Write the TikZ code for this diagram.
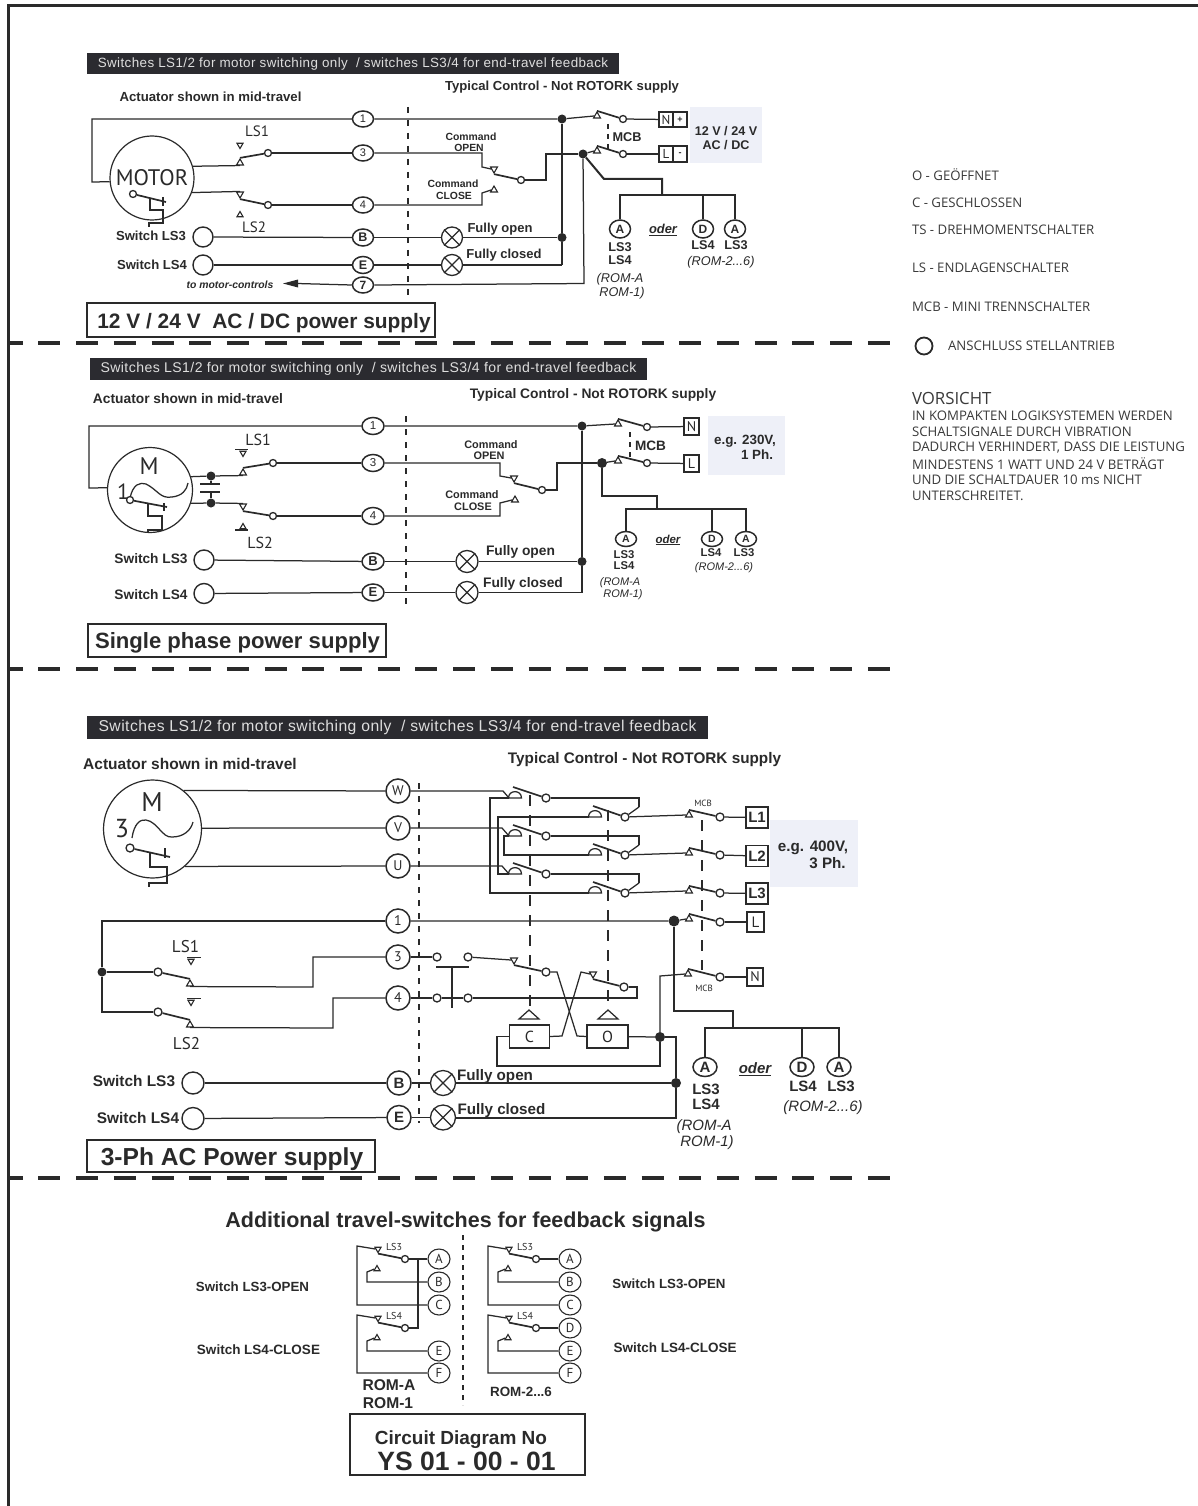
\documentclass[tikz,border=0pt]{standalone}
\usepackage{fontspec}
\setmainfont{Liberation Sans}
\newfontfamily\thinf{PT Sans}
\newfontfamily\legf{Open Sans}
\usetikzlibrary{shapes.geometric}
\definecolor{ink}{HTML}{2A2A2A}
\definecolor{hdrbg}{HTML}{2B2B30}
\definecolor{hdrfg}{HTML}{DEDEDE}
\definecolor{panel}{HTML}{EEF0F8}
\definecolor{legc}{HTML}{3A3A3A}
\newcommand{\fsz}[1]{\fontsize{#1}{#1}\selectfont}
\newcommand{\bt}[5]{\node[lab,font=\bfseries\fsz{#4}] (#1) at (#2,#3) {#5};}
\newcommand{\itx}[5]{\node[lab,font=\itshape\fsz{#4}] (#1) at (#2,#3) {#5};}
\newcommand{\tht}[5]{\node[lab,font=\thinf\fsz{#4}] (#1) at (#2,#3) {#5};}
\newcommand{\lamp}[4]{\node[lampn,minimum size=#4pt] (#1) at (#2,#3) {};\draw[wire] (#1.45) -- (#1.225) (#1.135) -- (#1.315);}
\newcommand{\dome}[2]{\draw[wire,fill=white] (#1-6.5,#2) .. controls (#1-6.5,#2-8.5) and (#1+6.5,#2-8.5) .. (#1+6.5,#2) -- cycle;}
\tikzset{
 wire/.style={line width=1.25pt,draw=ink},
 thk/.style={line width=2pt,draw=ink},
 blade/.style={line width=1.7pt,draw=ink},
 link/.style={line width=1.5pt,draw=ink,dash pattern=on 5pt off 5pt},
 ctl/.style={line width=1.6pt,draw=ink,dash pattern=on 6pt off 7pt},
 sect/.style={line width=4pt,draw=ink,dash pattern=on 22pt off 15.7pt,dash phase=7.3pt},
 lab/.style={inner sep=0pt,outer sep=0pt,text=ink,align=center},
 hdr/.style={fill=hdrbg,inner sep=0pt,text=hdrfg,align=center},
 term/.style={circle,draw=ink,line width=1.5pt,fill=white,inner sep=0pt,minimum size=20pt,text=ink},
 tel/.style={ellipse,draw=ink,line width=1.5pt,fill=white,inner sep=0pt,minimum width=21pt,minimum height=16pt,text=ink},
 ext/.style={circle,draw=ink,line width=1.4pt,fill=white,inner sep=0pt,minimum size=20pt},
 cont/.style={circle,draw=ink,line width=1.3pt,fill=white,inner sep=0pt,minimum size=7pt},
 dotn/.style={circle,fill=ink,inner sep=0pt,minimum size=9pt},
 lampn/.style={circle,draw=ink,line width=1.3pt,fill=white,inner sep=0pt},
 tri/.style={regular polygon,regular polygon sides=3,draw=ink,line width=1.1pt,fill=white,inner sep=0pt,minimum size=8pt},
 trd/.style={tri,shape border rotate=180},
 tbox/.style={rectangle,draw=ink,line width=1.2pt,fill=white,inner sep=0pt,text=ink},
 titlebox/.style={rectangle,draw=ink,line width=2.2pt,inner sep=0pt,text=ink,font=\bfseries},
 mot/.style={circle,draw=ink,line width=1.2pt,fill=white,inner sep=0pt},
 pan/.style={fill=panel,inner sep=0pt},
}
\begin{document}
\begin{tikzpicture}[x=1pt,y=-1pt]
\useasboundingbox (0,0) rectangle (1198,1506);
\fill[white] (0,0) rectangle (1198,1506);
% frame
\coordinate (f1) at (8.5,1506);\coordinate (f2) at (8.5,5.5);\coordinate (f3) at (1198,5.5);
\draw[line width=2.2pt,draw=ink] (f1) -- (f2) -- (f3);
% section rules
\coordinate (r1a) at (8,343);\coordinate (r1b) at (890,343);\draw[sect] (r1a) -- (r1b);
\coordinate (r2a) at (8,669);\coordinate (r2b) at (890,669);\draw[sect] (r2a) -- (r2b);
\coordinate (r3a) at (8,1178);\coordinate (r3b) at (890,1178);\draw[sect] (r3a) -- (r3b);

%%%%%%%%%%%%%%% SECTION 1
\node[hdr,minimum width=532pt,minimum height=21pt,font=\fsz{13.4}] (h1) at (353,64) {\addfontfeature{LetterSpace=3}Switches LS1/2 for motor switching only~ / switches LS3/4 for end-travel feedback};
\bt{a1}{210.5}{97}{13.2}{Actuator shown in mid-travel}
\bt{y1}{562}{87}{13.1}{Typical Control - Not ROTORK supply}
\coordinate (d1a) at (408,107);\coordinate (d1b) at (408,297);\draw[ctl] (d1a) -- (d1b);
\node[pan,minimum width=72pt,minimum height=56pt] (p1) at (726,135) {};
\bt{p1a}{726}{131}{12.6}{12 V / 24 V}
\bt{p1b}{726}{145}{12.6}{AC / DC}
\node[mot,minimum size=84pt] (m1) at (152,178) {};
\tht{m1t}{152}{178}{22.5}{MOTOR}
\node[tel,font=\fsz{11}] (t11) at (363,119) {1};
\node[tel,font=\fsz{11}] (t13) at (363,153) {3};
\node[tel,font=\fsz{11}] (t14) at (363,205) {4};
\node[tel,minimum height=17pt,font=\bfseries\fsz{12.5}] (t1b) at (363,237.5) {B};
\node[tel,minimum height=17pt,font=\bfseries\fsz{12.5}] (t1e) at (363,265) {E};
\node[tel,minimum height=16pt,font=\bfseries\fsz{12}] (t17) at (363,285) {7};
\coordinate (w1a) at (92,119);\coordinate (w1b) at (92,182);
\draw[wire] (t11) -- (w1a) -- (w1b) -- (m1.185);
% LS1 LS2
\node[tri] (s1u) at (240,163) {};
\node[trd] (s1d) at (240,194) {};
\node[cont] (c1u) at (268,153) {};
\node[cont] (c1d) at (268,205) {};
\draw[wire] (m1.16) -- (s1u.south);
\draw[wire] (m1.-20) -- (s1d.north);
\draw[blade] (s1u.corner 1) -- (c1u);
\draw[blade] (s1d.corner 1) -- (c1d);
\draw[wire] (c1u) -- (t13);
\draw[wire] (c1d) -- (t14);
\node[trd,minimum size=7pt] (q1u) at (240,145) {};
\node[tri,minimum size=7pt] (q1d) at (240,215) {};
\tht{l1a}{257}{131}{15}{LS1}
\tht{l1b}{254}{227}{15}{LS2}
% torque symbol
\node[cont,minimum size=7pt] (g1) at (133,194) {};
\coordinate (g1e) at (166,202);\draw[blade] (g1) -- (g1e);
\coordinate (g1t) at (163,197);\coordinate (g1u) at (163,206);\draw[blade] (g1t) -- (g1u);
\coordinate (g1a) at (150,198);\coordinate (g1f) at (149,227);
\draw[line width=2pt,draw=ink] (g1a) -- (150,210) -- (163,210) -- (163,223) -- (149,223) -- (g1f);
% ext
\bt{e1a}{151}{236}{13.1}{Switch LS3}
\bt{e1b}{152}{265}{13.1}{Switch LS4}
\node[ext] (x1a) at (203,237) {};
\node[ext] (x1b) at (203,265) {};
\draw[wire] (x1a) -- (t1b);
\draw[wire] (x1b) -- (t1e);
\node[lab,font=\bfseries\itshape\fsz{10.4}] (mc) at (230,285) {to motor-controls};
\coordinate (ar) at (283,283.5);
\draw[wire] (t17.180) -- (297,283.5);
\fill[ink] (ar) -- (298,279.5) -- (298,287.5) -- cycle;
\node[titlebox,minimum width=348pt,minimum height=34pt] (b1) at (261,320) {};
\bt{b1t}{264}{323}{20.9}{12 V / 24 V~ AC / DC power supply}
% right
\node[dotn] (d1n) at (562,119) {};
\node[dotn] (d1l) at (583,154) {};
\node[dotn] (d1o) at (562,237.5) {};
\node[tri] (m1n) at (597,116) {};
\node[tri] (m1l) at (597,151) {};
\node[cont] (c1n) at (623,119) {};
\node[cont] (c1l) at (623,154) {};
\node[tbox,minimum width=14pt,minimum height=15pt,font=\thinf\fsz{13}] (b1n) at (666,119.5) {N};
\node[tbox,minimum width=14pt,minimum height=15pt,font=\bfseries\fsz{9}] (b1p) at (680,119.5) {+};
\node[tbox,minimum width=14pt,minimum height=16pt,font=\thinf\fsz{13}] (b1l) at (666,154) {L};
\node[tbox,minimum width=14pt,minimum height=16pt,font=\bfseries\fsz{9}] (b1m) at (680,154) {-};
\draw[wire] (t11) -- (d1n) -- (m1n.west);
\draw[blade] (m1n.corner 1) -- (c1n);
\draw[blade] (m1l.corner 1) -- (c1l);
\draw[wire] (c1n) -- (b1n);
\draw[wire] (c1l) -- (b1l);
\draw[wire] (d1l) -- (m1l.west);
\coordinate (ml1) at (608,124);\coordinate (ml2) at (608,152);\draw[link] (ml1) -- (ml2);
\bt{mcb1}{627}{137}{12.7}{MCB}
% command switch
\node[trd] (k1a) at (494,169) {};
\node[tri] (k1b) at (494,190) {};
\node[cont] (k1c) at (521,180) {};
\draw[wire] (t13) -- (482,153) -- (482,167) -- (k1a.west);
\draw[wire] (t14) -- (482,205) -- (482,193) -- (k1b.west);
\draw[blade] (k1a.corner 1) -- (k1c);
\draw[wire] (k1c) -- (546,180) -- (546,154) -- (d1l);
\bt{k1t}{471}{137}{10.4}{Command}
\bt{k1u}{469}{148}{10.4}{OPEN}
\bt{k1v}{453}{184}{10.4}{Command}
\bt{k1w}{454}{196}{10.4}{CLOSE}
% lamps
\lamp{la1}{452}{237.5}{21}
\lamp{lb1}{452}{265}{21}
\draw[wire] (t1b) -- (la1);
\draw[wire] (t1e) -- (lb1);
\draw[wire] (la1) -- (d1o);
\coordinate (bb1) at (562,265);
\draw[wire] (lb1) -- (bb1);
\draw[thk] (d1n) -- (d1o) -- (bb1);
\bt{fo1}{500}{229.4}{13}{Fully open}
\bt{fc1}{504}{255.4}{13}{Fully closed}
\draw[wire] (t17.0) -- (584,283.5) -- (d1l);
% branch
\node[tel,minimum height=18pt,font=\bfseries\fsz{12}] (z1a) at (620,229) {A};
\node[tel,minimum height=18pt,font=\bfseries\fsz{12}] (z1d) at (703,229) {D};
\node[tel,minimum height=18pt,font=\bfseries\fsz{12}] (z1e) at (735,229) {A};
\draw[thk] (d1l) -- (604,179) -- (662,179) -- (662,195);
\draw[thk] (z1a) -- (620,195) -- (735,195) -- (z1e);
\draw[thk] (703,195) -- (z1d);
\bt{z1b}{620}{247}{12.7}{LS3}
\bt{z1c}{620}{260}{12.7}{LS4}
\itx{z1f}{620}{279}{12.7}{(ROM-A}
\itx{z1g}{622}{293}{12.7}{ROM-1)}
\node[lab,font=\bfseries\itshape\fsz{12.9}] (o1) at (663,230) {\underline{oder}};
\bt{z1h}{703}{245}{12.7}{LS4}
\bt{z1i}{736}{245}{12.7}{LS3}
\itx{z1j}{721}{262}{12.7}{(ROM-2...6)}

%%%%%%%%%%%%%%% SECTION 2
\node[hdr,minimum width=557pt,minimum height=22pt,font=\fsz{14.07}] (h2) at (368.5,369) {\addfontfeature{LetterSpace=3}Switches LS1/2 for motor switching only~ / switches LS3/4 for end-travel feedback};
\bt{a2}{188}{399}{13.8}{Actuator shown in mid-travel}
\bt{y2}{593}{395.4}{13.8}{Typical Control - Not ROTORK supply}
\coordinate (d2a) at (406,416);\coordinate (d2b) at (406,607);\draw[ctl] (d2a) -- (d2b);
\node[pan,minimum width=77pt,minimum height=59pt] (p2) at (746.5,445.5) {};
\bt{p2a}{745}{441}{13.4}{e.g. 230V,}
\bt{p2b}{757}{455}{13.4}{1 Ph.}
\node[mot,minimum size=85pt] (m2) at (150,490) {};
\tht{m2m}{149}{466}{24}{M}
\tht{m2o}{123}{492}{22}{1}
\draw[wire] (130,498) .. controls (133,484) and (140,482) .. (146,484) .. controls (158,490) and (160,499) .. (172,497) .. controls (182,496) and (187,490) .. (188,483);
\node[tel,minimum width=22pt,minimum height=17pt,font=\fsz{11.5}] (t21) at (373,426) {1};
\node[tel,minimum width=22pt,minimum height=17pt,font=\fsz{11.5}] (t23) at (373,463) {3};
\node[tel,minimum width=22pt,minimum height=17pt,font=\fsz{11.5}] (t24) at (373,516) {4};
\node[tel,minimum width=22pt,minimum height=17pt,font=\bfseries\fsz{13}] (t2b) at (373,561.5) {B};
\node[tel,minimum width=22pt,minimum height=17pt,font=\bfseries\fsz{13}] (t2e) at (373,592.5) {E};
\coordinate (w2a) at (89,426);\coordinate (w2b) at (89,488);
\draw[wire] (t21) -- (w2a) -- (w2b) -- (m2.177);
\node[tri] (s2u) at (243,473) {};
\node[trd] (s2d) at (243,506) {};
\node[cont] (c2u) at (273,463) {};
\node[cont] (c2d) at (273,516) {};
\node[dotn] (cp1) at (211,476) {};
\node[dotn] (cp2) at (211,503) {};
\draw[wire] (m2.18) -- (cp1) -- (s2u.south);
\draw[wire] (m2.-18) -- (cp2) -- (s2d.north);
\draw[blade] (s2u.corner 1) -- (c2u);
\draw[blade] (s2d.corner 1) -- (c2d);
\draw[wire] (c2u) -- (t23);
\draw[wire] (c2d) -- (t24);
\coordinate (cpa1) at (200,484);\coordinate (cpa2) at (220,484);\draw[blade] (cpa1) -- (cpa2);
\coordinate (cpb1) at (200,492);\coordinate (cpb2) at (220,492);\draw[blade] (cpb1) -- (cpb2);
\draw[wire] (cp1) -- (211,484) (cp2) -- (211,492);
\node[trd,minimum size=7pt] (q2u) at (243,453) {};
\node[tri,minimum size=7pt] (q2d) at (243,527) {};
\coordinate (qb1) at (235,449.5);\coordinate (qb2) at (248,449.5);\draw[wire] (qb1) -- (qb2);
\coordinate (qb3) at (235,530);\coordinate (qb4) at (248,530);\draw[wire] (qb3) -- (qb4);
\tht{l2a}{258}{440}{16}{LS1}
\tht{l2b}{260}{543}{16}{LS2}
\node[cont] (g2) at (130,500) {};
\coordinate (g2e) at (167,507);\draw[blade] (g2) -- (g2e);
\coordinate (g2t) at (164,503);\coordinate (g2u) at (164,511);\draw[wire] (g2t) -- (g2u);
\coordinate (g2a) at (148,503);\coordinate (g2f) at (148,533);
\draw[line width=2pt,draw=ink] (g2a) -- (148,516) -- (162,516) -- (162,530) -- (148,530) -- (g2f);
\bt{e2a}{151}{559}{13.7}{Switch LS3}
\bt{e2b}{151}{595}{13.7}{Switch LS4}
\node[ext] (x2a) at (204,560) {};
\node[ext] (x2b) at (204,593.5) {};
\draw[wire] (x2a) -- (t2b);
\draw[wire] (x2b) -- (t2e);
\node[titlebox,minimum width=298pt,minimum height=33pt] (b2) at (237,640.5) {};
\bt{b2t}{237.5}{643.3}{22.1}{Single phase power supply}
% right
\node[dotn] (d2n) at (582,426) {};
\node[dotn,minimum size=10pt] (d2l) at (602,463) {};
\node[dotn] (d2o) at (582,561.5) {};
\node[tri] (m2n) at (618,424) {};
\node[tri] (m2l) at (618,461) {};
\node[cont] (c2n) at (647,427) {};
\node[cont] (c2l) at (647,463) {};
\node[tbox,minimum width=15pt,minimum height=17pt,font=\thinf\fsz{14}] (b2n) at (691.5,426.5) {N};
\node[tbox,minimum width=15pt,minimum height=17pt,font=\thinf\fsz{14}] (b2l) at (691.5,463.5) {L};
\draw[wire] (t21) -- (d2n) -- (m2n.west);
\draw[blade] (m2n.corner 1) -- (c2n);
\draw[blade] (m2l.corner 1) -- (c2l);
\draw[wire] (c2n) -- (b2n);
\draw[wire] (c2l) -- (b2l);
\draw[wire] (d2l) -- (m2l.west);
\coordinate (ml3) at (630,432);\coordinate (ml4) at (630,457);\draw[link] (ml3) -- (ml4);
\bt{mcb2}{650.5}{446}{13.6}{MCB}
\node[trd] (k2a) at (514,478) {};
\node[tri] (k2b) at (515,500) {};
\node[cont] (k2c) at (542,490) {};
\draw[wire] (t23) -- (500,463) -- (500,476) -- (k2a.west);
\draw[wire] (t24) -- (500,516) -- (500,503) -- (k2b.west);
\draw[blade] (k2a.corner 1) -- (k2c);
\draw[wire] (k2c) -- (557,490) -- (557,463) -- (d2l);
\bt{k2t}{491}{445}{10.9}{Command}
\bt{k2u}{489}{456}{10.9}{OPEN}
\bt{k2v}{472}{495}{10.9}{Command}
\bt{k2w}{473}{507}{10.9}{CLOSE}
\lamp{la2}{467}{561.5}{22}
\lamp{lb2}{467}{592.5}{22}
\draw[wire] (t2b) -- (la2);
\draw[wire] (t2e) -- (lb2);
\draw[wire] (la2) -- (d2o);
\coordinate (bb2) at (582,592.5);
\draw[wire] (lb2) -- (bb2);
\draw[thk] (d2n) -- (d2o) -- (bb2);
\bt{fo2}{520.5}{552.4}{13.8}{Fully open}
\bt{fc2}{523}{584.4}{13.8}{Fully closed}
\node[tel,minimum height=15pt,font=\bfseries\fsz{10.5}] (z2a) at (626,539) {A};
\node[tel,minimum height=15pt,font=\bfseries\fsz{10.5}] (z2d) at (712,539) {D};
\node[tel,minimum height=15pt,font=\bfseries\fsz{10.5}] (z2e) at (746,539) {A};
\draw[thk] (d2l) -- (602,496) -- (657,496) -- (657,509);
\draw[thk] (z2a) -- (626,509) -- (746,509) -- (z2e);
\draw[thk] (712,509) -- (z2d);
\bt{z2b}{624}{555}{11.3}{LS3}
\bt{z2c}{624}{566}{11.3}{LS4}
\itx{z2f}{620}{583}{11}{(ROM-A}
\itx{z2g}{623}{595}{11}{ROM-1)}
\node[lab,font=\bfseries\itshape\fsz{11.5}] (o2) at (668,540) {\underline{oder}};
\bt{z2h}{711}{553}{11.3}{LS4}
\bt{z2i}{744}{553}{11.3}{LS3}
\itx{z2j}{724}{568}{11}{(ROM-2...6)}

%%%%%%%%%%%%%%% SECTION 3
\node[hdr,minimum width=621pt,minimum height=23pt,font=\fsz{15.7}] (h3) at (397.5,727.5) {\addfontfeature{LetterSpace=3}Switches LS1/2 for motor switching only~ / switches LS3/4 for end-travel feedback};
\bt{a3}{190}{764}{15.5}{Actuator shown in mid-travel}
\bt{y3}{644.5}{759.6}{15.3}{Typical Control - Not ROTORK supply}
\coordinate (d3a) at (419,783);\coordinate (d3b) at (419,1123);\draw[ctl] (d3a) -- (d3b);
\node[pan,minimum width=88pt,minimum height=67pt] (p3) at (814,853.5) {};
\bt{p3a}{813}{848}{15.2}{e.g. 400V,}
\bt{p3b}{827.5}{863}{15.2}{3 Ph.}
\coordinate (sy1) at (150,852);
\node[mot,minimum size=98pt] (m3) at (152.5,829) {};
\tht{m3m}{152}{802}{27}{M}
\tht{m3o}{122}{829}{26}{3}
\draw[wire] (132,838) .. controls (134,824) and (140,819) .. (146,820) .. controls (158,822) and (162,838) .. (172,837) .. controls (184,837) and (191,830) .. (193,822);
\node[cont,minimum size=8pt] (g3) at (130,848) {};
\coordinate (g3e) at (170,857);\draw[blade] (g3) -- (g3e);
\coordinate (g3t) at (165,848);\coordinate (g3u) at (165,858);\draw[wire] (g3t) -- (g3u);
\coordinate (g3f) at (149,887);
\draw[line width=2pt,draw=ink] (sy1) -- (150,867) -- (167,867) -- (167,883) -- (149,883) -- (g3f);
\foreach \n/\v/\y in {w/W/791,v/V/828,u/U/866,1/1/921,3/3/957,4/4/998}{
  \node[term,minimum size=24pt,font=\thinf\fsz{14}] (t3\n) at (398,\y) {\v};
}
\node[term,minimum size=24pt,font=\bfseries\fsz{15}] (t3b) at (399,1083) {B};
\node[term,minimum size=24pt,font=\bfseries\fsz{15}] (t3e) at (399,1117.5) {E};
\draw[wire] (m3.51) -- (t3w);
\draw[wire] (m3.1) -- (t3v);
\draw[wire] (m3.-49) -- (t3u);
% LS1/LS2 sec 3
\node[dotn,minimum size=9pt] (d3s) at (102,972) {};
\node[cont,minimum size=8pt] (c3a) at (158,972) {};
\node[cont,minimum size=8pt] (c3b) at (158,1012) {};
\node[tri] (s3a) at (190,984) {};
\node[tri] (s3b) at (190,1025) {};
\draw[wire] (t31) -- (102,921) -- (d3s) -- (102,1012) -- (c3b);
\draw[wire] (d3s) -- (c3a);
\draw[blade] (c3a) -- (s3a.corner 1);
\draw[blade] (c3b) -- (s3b.corner 1);
\draw[wire] (s3a.south) -- (313,987) -- (313,957) -- (t33);
\draw[wire] (s3b.south) -- (333,1028) -- (333,998) -- (t34);
\node[trd,minimum size=7pt] (q3a) at (191,961) {};
\node[trd,minimum size=7pt] (q3b) at (191,1002) {};
\coordinate (qc1) at (187,957.5);\coordinate (qc2) at (201,957.5);\draw[wire] (qc1) -- (qc2);
\coordinate (qc3) at (187,998.5);\coordinate (qc4) at (201,998.5);\draw[wire] (qc3) -- (qc4);
\tht{l3a}{185.5}{947}{17}{LS1}
\tht{l3b}{186.5}{1044}{17}{LS2}
% contactor top
\foreach \n/\y in {a/798,b/836,c/874}{
  \dome{515}{\y}
  \node[cont,minimum size=8pt] (u\n) at (546,\y) {};
  \coordinate (ub\n) at (513,\y-11);
  \draw[blade] (ub\n) -- (u\n);
  \coordinate (ug\n) at (639,\y);
  \coordinate (uh\n) at (639,\y+9);
  \draw[wire] (u\n) -- (ug\n) -- (uh\n);
}
\foreach \n/\y in {a/817,b/855,c/893}{
  \dome{595}{\y}
  \node[cont,minimum size=8pt] (v\n) at (625,\y) {};
  \coordinate (vb\n) at (593,\y-11);
  \draw[blade] (vb\n) -- (v\n);
  \node[tri] (w\n) at (689,\y-2) {};
  \node[cont,minimum size=8pt] (y\n) at (720,\y) {};
  \draw[blade] (w\n.corner 1) -- (y\n);
  \draw[wire] (v\n) -- (w\n.west);
}
\draw[wire] (uha) -- (va);\draw[wire] (uhb) -- (vb);\draw[wire] (uhc) -- (vc);
\node[tbox,minimum width=22pt,minimum height=21pt,font=\bfseries\fsz{15}] (bl1) at (757,817.5) {L1};
\node[tbox,minimum width=22pt,minimum height=21pt,font=\bfseries\fsz{15}] (bl2) at (757,856) {L2};
\node[tbox,minimum width=22pt,minimum height=21pt,font=\bfseries\fsz{15}] (bl3) at (757,893.5) {L3};
\node[tbox,minimum width=17pt,minimum height=20pt,font=\thinf\fsz{15}] (bll) at (755.5,922) {L};
\draw[wire] (ya) -- (bl1);\draw[wire] (yb) -- (bl2);\draw[wire] (yc) -- (bl3);
\node[lab,font=\thinf\fsz{9}] (mcb3) at (703,803) {MCB};
% brackets and feeds
\draw[wire] (t3w) -- (503,791) -- (509,798);
\draw[wire] (t3v) -- (502,828) -- (509,836);
\draw[wire] (t3u) -- (502,866) -- (509,874);
\draw[wire] (509,798) -- (490,798) -- (490,893) -- (588.5,893);
\draw[wire] (509,874) -- (498,874) -- (498,817) -- (588.5,817);
\draw[wire] (509,836) -- (504,836) -- (504,855) -- (588.5,855);
% mech links
\coordinate (ln1) at (530,795);\coordinate (ln2) at (530,1010);
\coordinate (ln3) at (608,810);\coordinate (ln4) at (608,1010);
\coordinate (ln5) at (702,820);\coordinate (ln6) at (702,970);
\draw[line width=1.2pt,draw=ink,dash pattern=on 11pt off 9pt] (ln1) -- (ln2);
\draw[line width=1.2pt,draw=ink,dash pattern=on 11pt off 9pt] (ln3) -- (ln4);
\draw[line width=1.2pt,draw=ink,dash pattern=on 11pt off 9pt] (ln5) -- (ln6);
% L row
\node[dotn,minimum size=11pt] (d3n) at (674,921) {};
\node[tri] (wl) at (689,919) {};
\node[cont,minimum size=8pt] (yl) at (720,922) {};
\draw[wire] (t31) -- (d3n) -- (wl.west);
\draw[blade] (wl.corner 1) -- (yl);
\draw[wire] (yl) -- (bll);
% N row
\node[tri] (wn) at (688,974) {};
\node[cont,minimum size=8pt] (yn) at (720,977) {};
\node[tbox,minimum width=16pt,minimum height=18pt,font=\thinf\fsz{14}] (bln) at (755,977) {N};
\draw[blade] (wn.corner 1) -- (yn);
\draw[wire] (yn) -- (bln);
\node[lab,font=\thinf\fsz{9}] (mcb4) at (704,988) {MCB};
% push button
\node[cont,minimum size=8pt] (pb1) at (437,957) {};
\node[cont,minimum size=8pt] (pb2) at (468,957) {};
\node[cont,minimum size=8pt] (pb3) at (437,998) {};
\node[cont,minimum size=8pt] (pb4) at (468,998) {};
\draw[wire] (t33) -- (pb1);
\draw[wire] (t34) -- (pb3);
\coordinate (pt1) at (436,967);\coordinate (pt2) at (469,967);\draw[blade] (pt1) -- (pt2);
\coordinate (pt3) at (452,967);\coordinate (pt4) at (452,1008);\draw[blade] (pt3) -- (pt4);
\draw[wire] (pb3) -- (pb4);
% contactor coil contacts
\node[trd] (k3a) at (514,960) {};
\node[cont,minimum size=8pt] (k3c) at (546,972) {};
\node[trd] (k3b) at (593,974) {};
\node[cont,minimum size=8pt] (k3d) at (624,987) {};
\draw[wire] (pb2) -- (k3a.west);
\draw[blade] (k3a.corner 1) -- (k3c);
\draw[blade] (k3b.corner 1) -- (k3d);
\node[tbox,minimum width=40pt,minimum height=23pt,font=\thinf\fsz{16}] (cc) at (529.5,1036.5) {C};
\node[tbox,minimum width=41pt,minimum height=23pt,font=\thinf\fsz{16}] (co) at (607.5,1036.5) {O};
\draw[wire] (k3c) -- (557,972) -- (577,1036) -- (co.west);
\draw[wire] (k3b.west) -- (581,972) -- (562,1036) -- (cc.east);
\draw[wire] (pb4) -- (637,998) -- (637,987) -- (k3d);
\draw[wire,fill=white] (519,1019) -- (529,1010) -- (539,1019) -- cycle;
\draw[wire,fill=white] (598,1019) -- (608,1010) -- (618,1019) -- cycle;
\node[dotn,minimum size=10pt] (d3c) at (660,1037) {};
\node[dotn,minimum size=10pt] (d3o) at (676,1083) {};
\draw[wire] (co) -- (d3c);
\draw[wire] (cc.west) -- (497,1036.5) -- (497,1066) -- (660,1066) -- (d3c);
\draw[wire] (d3c) -- (660,976) -- (wn.west);
\draw[wire] (d3c) -- (676,1037) -- (d3o);
% lamps
\lamp{la3}{443}{1083}{25}
\lamp{lb3}{443}{1117.5}{25}
\draw[wire] (t3b) -- (la3);
\draw[wire] (t3e) -- (lb3);
\draw[thk] (la3) -- (d3o);
\draw[thk] (lb3) -- (676,1117.5) -- (d3o);
\bt{fo3}{495}{1076.6}{15.2}{Fully open}
\bt{fc3}{501.5}{1110.6}{15.2}{Fully closed}
\bt{e3a}{134}{1081}{15.4}{Switch LS3}
\bt{e3b}{138}{1118}{15.4}{Switch LS4}
\node[ext,minimum size=22pt] (x3a) at (193,1083) {};
\node[ext,minimum size=22pt] (x3b) at (193,1118.5) {};
\draw[wire] (x3a) -- (t3b);
\draw[wire] (x3b) -- (t3e);
\node[titlebox,minimum width=288pt,minimum height=32pt] (b3) at (231,1156) {};
\bt{b3t}{232}{1159.6}{24.6}{3-Ph AC Power supply}
% branch
\node[tel,minimum width=24pt,minimum height=19pt,font=\bfseries\fsz{15}] (z3a) at (705,1067) {A};
\node[tel,minimum width=24pt,minimum height=19pt,font=\bfseries\fsz{15}] (z3d) at (802,1067) {D};
\node[tel,minimum width=24pt,minimum height=19pt,font=\bfseries\fsz{15}] (z3e) at (839,1067) {A};
\draw[thk] (d3n) -- (674,1011) -- (733,1011) -- (733,1028);
\draw[thk] (z3a) -- (705,1028) -- (839,1028) -- (z3e);
\draw[thk] (802,1028) -- (z3d);
\bt{z3b}{706}{1089}{15}{LS3}
\bt{z3c}{706}{1104}{15}{LS4}
\itx{z3f}{704}{1126.5}{15}{(ROM-A}
\itx{z3g}{707}{1142.5}{15}{ROM-1)}
\node[lab,font=\bfseries\itshape\fsz{15}] (o3) at (755,1069) {\underline{oder}};
\bt{z3h}{803}{1086}{15}{LS4}
\bt{z3i}{841}{1086}{15}{LS3}
\itx{z3j}{823}{1107.5}{15}{(ROM-2...6)}

%%%%%%%%%%%%%%% SECTION 4
\bt{s4}{465.5}{1222.3}{21.5}{Additional travel-switches for feedback signals}
\coordinate (dv1) at (463,1235);\coordinate (dv2) at (463,1405);
\draw[line width=2pt,draw=ink,dash pattern=on 5pt off 5pt] (dv1) -- (dv2);
\foreach \n/\v/\y in {a/A/1259,b/B/1282,c/C/1305,e/E/1351,f/F/1373}{
  \node[tel,line width=1.1pt,minimum width=22pt,minimum height=20pt,font=\thinf\fsz{13}] (l\n) at (439,\y) {\v};
}
\foreach \n/\v/\y in {a/A/1259,b/B/1282,c/C/1305,d/D/1328,e/E/1351,f/F/1373}{
  \node[tel,line width=1.1pt,minimum width=22pt,minimum height=20pt,font=\thinf\fsz{13}] (r\n) at (570,\y) {\v};
}
\foreach \s/\dx in {l/0,r/131}{
  \node[trd,minimum size=7pt] (\s s3) at (378+\dx,1249) {};
  \node[cont] (\s c3) at (405+\dx,1259) {};
  \node[tri,minimum size=7pt] (\s u3) at (377+\dx,1269) {};
  \node[trd,minimum size=7pt] (\s s4) at (378+\dx,1318) {};
  \node[cont] (\s c4) at (405+\dx,1328) {};
  \node[tri,minimum size=7pt] (\s u4) at (377+\dx,1338) {};
  \draw[blade] (\s s3.corner 1) -- (\s c3);
  \draw[blade] (\s s4.corner 1) -- (\s c4);
  \draw[wire] (\s c3) -- (\s a);
  \draw[wire] (\s s3.west) -- (357+\dx,1246) -- (357+\dx,1305) -- (\s c);
  \draw[wire] (\s s4.west) -- (357+\dx,1315) -- (357+\dx,1373) -- (\s f);
  \draw[wire] (\s u3.west) -- (367+\dx,1272) -- (367+\dx,1282) -- (\s b);
  \draw[wire] (\s u4.west) -- (367+\dx,1341) -- (367+\dx,1351) -- (\s e);
  \node[lab,font=\thinf\fsz{10}] (\s t3) at (394+\dx,1247) {LS3};
  \node[lab,font=\thinf\fsz{10}] (\s t4) at (394+\dx,1316) {LS4};
}
\draw[wire] (lc4) -- (418,1328) -- (418,1259);
\draw[wire] (rc4) -- (rd);
\bt{rm1}{389}{1385}{15.6}{ROM-A}
\bt{rm2}{388}{1403}{15.6}{ROM-1}
\bt{rm3}{521}{1392}{13.4}{ROM-2...6}
\bt{sw1}{252.5}{1287}{13.3}{Switch LS3-OPEN}
\bt{sw2}{258.5}{1350}{13.5}{Switch LS4-CLOSE}
\bt{sw3}{669}{1284}{13.3}{Switch LS3-OPEN}
\bt{sw4}{675}{1348}{13.5}{Switch LS4-CLOSE}
\node[titlebox,minimum width=235pt,minimum height=61pt] (tb) at (467.5,1444.5) {};
\bt{tb1}{461}{1440}{19}{Circuit Diagram No}
\bt{tb2}{466.5}{1461}{26.5}{YS 01 - 00 - 01}

%%%%%%%%%%%%%%% LEGEND
\tikzset{lg/.style={lab,anchor=west,text=legc,font=\legf\fsz{13.2}}}
\node[lg] (g1a) at (912,175) {O - GEÖFFNET};
\node[lg] (g1b) at (912,203) {C - GESCHLOSSEN};
\node[lg] (g1c) at (912,230) {TS - DREHMOMENTSCHALTER};
\node[lg] (g1d) at (912,268) {LS - ENDLAGENSCHALTER};
\node[lg] (g1e) at (912,307) {MCB - MINI TRENNSCHALTER};
\node[ext,line width=1.8pt,minimum size=17pt] (g1f) at (924,346) {};
\node[lg] (g1g) at (948,346) {ANSCHLUSS STELLANTRIEB};
\node[lg,font=\legf\fsz{16.8}] (g1h) at (912,398) {VORSICHT};
\node[lg] (g2a) at (912,416) {IN KOMPAKTEN LOGIKSYSTEMEN WERDEN};
\node[lg] (g2b) at (912,432) {SCHALTSIGNALE DURCH VIBRATION};
\node[lg] (g2c) at (912,448) {DADURCH VERHINDERT, DASS DIE LEISTUNG};
\node[lg] (g2d) at (912,464) {MINDESTENS 1 WATT UND 24 V BETRÄGT};
\node[lg] (g2e) at (912,480) {UND DIE SCHALTDAUER 10 ms NICHT};
\node[lg] (g2f) at (912,496) {UNTERSCHREITET.};
\end{tikzpicture}
\end{document}
